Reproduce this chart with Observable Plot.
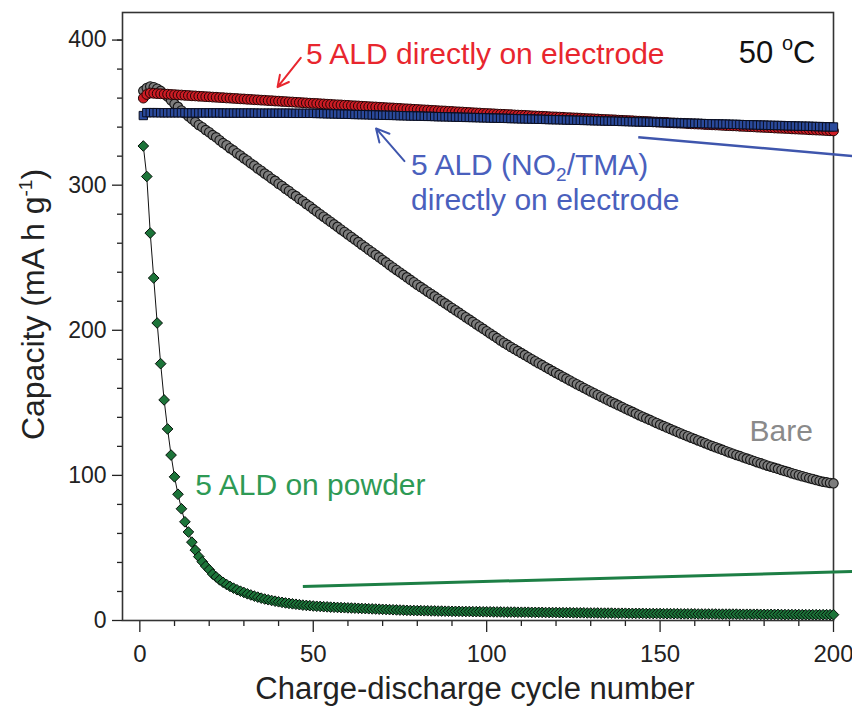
<!DOCTYPE html>
<html>
<head>
<meta charset="utf-8">
<script src="https://cdn.jsdelivr.net/npm/d3@7"></script>
<script src="https://cdn.jsdelivr.net/npm/@observablehq/plot@0.6"></script>
<style>
html, body { margin: 0; padding: 0; background: #fff; }
#chart svg { display: block; }
</style>
</head>
<body>
<div id="chart"></div>
<script>
// ---- Data ----
const bare = [
365,367,368,367.5,366.5,365,363,361,358.5,356,
354,351.5,349.5,347.5,345.5,343.5,341.5,340,338,336.5,
334.5,333,331,329,327.5,325.5,324,322,320.5,318.5,
317,315,313.5,311.5,310,308,306.5,304.5,303,301,
299.5,297.5,296,294,292.5,290.5,289,287,285.5,283.5,
281.8,280,278.3,276.5,274.8,273,271.3,269.5,267.8,266,
264.3,262.5,260.8,259,257.3,255.5,253.8,252,250.3,248.5,
246.8,245,243.3,241.6,239.9,238.2,236.5,234.8,233.1,231.4,
229.8,228.2,226.6,225,223.4,221.8,220.2,218.6,217,215.4,
213.8,212.2,210.6,209,207.4,205.8,204.2,202.6,201,199.4,
197.8,196.2,194.6,193,191.4,190.0,188.5,187.1,185.7,184.3,
182.9,181.5,180.1,178.7,177.3,176.0,174.6,173.3,171.9,170.6,
169.3,168.0,166.7,165.4,164.1,162.8,161.6,160.3,159.1,157.8,
156.6,155.4,154.2,153.0,151.8,150.6,149.5,148.3,147.2,146.0,
144.9,143.8,142.6,141.5,140.4,139.3,138.3,137.2,136.1,135.0,
134.0,133.0,131.9,130.9,129.9,128.9,127.9,127.0,126.0,125.0,
124.1,123.1,122.2,121.2,120.3,119.4,118.5,117.6,116.7,115.8,
115.0,114.1,113.3,112.4,111.6,110.8,110.0,109.1,108.3,107.5,
106.7,106.0,105.2,104.5,103.7,103.0,102.3,101.5,100.8,100.1,
99.4,98.8,98.1,97.5,96.8,96.2,95.6,95.2,94.8,94.5
];
const aldElectrode = [
360,362.5,363.5,363.3,363.1,363.0,362.8,362.7,362.5,362.4,
362.2,362.1,361.9,361.8,361.6,361.5,361.3,361.2,361.0,360.9,
360.7,360.6,360.4,360.3,360.1,360.0,359.8,359.7,359.5,359.4,
359.2,359.1,358.9,358.8,358.6,358.5,358.3,358.2,358.0,357.9,
357.7,357.6,357.4,357.3,357.1,357.0,356.8,356.7,356.5,356.4,
356.3,356.1,356.0,355.8,355.7,355.5,355.4,355.3,355.1,355.0,
354.8,354.7,354.6,354.4,354.3,354.1,354.0,353.9,353.7,353.6,
353.4,353.3,353.2,353.0,352.9,352.7,352.6,352.5,352.3,352.2,
352.0,351.9,351.8,351.6,351.5,351.3,351.2,351.1,350.9,350.8,
350.6,350.5,350.4,350.2,350.1,349.9,349.8,349.7,349.5,349.4,
349.3,349.2,349.0,348.9,348.8,348.7,348.6,348.4,348.3,348.2,
348.1,348.0,347.8,347.7,347.6,347.5,347.4,347.2,347.1,347.0,
346.9,346.8,346.6,346.5,346.4,346.3,346.2,346.0,345.9,345.8,
345.7,345.6,345.4,345.3,345.2,345.1,345.0,344.8,344.7,344.6,
344.5,344.4,344.2,344.1,344.0,343.9,343.8,343.6,343.5,343.4,
343.3,343.2,343.0,342.9,342.8,342.7,342.6,342.4,342.3,342.2,
342.1,342.0,341.8,341.7,341.6,341.5,341.4,341.2,341.1,341.0,
340.9,340.8,340.6,340.5,340.4,340.3,340.2,340.0,339.9,339.8,
339.7,339.6,339.4,339.3,339.2,339.1,339.0,338.8,338.7,338.6,
338.5,338.4,338.2,338.1,338.0,337.9,337.8,337.6,337.5,337.4
];
const aldNO2 = [
348,350,350.0,350.0,350.0,349.9,349.9,349.9,349.9,349.9,
349.9,349.9,349.9,349.8,349.8,349.8,349.8,349.8,349.8,349.8,
349.8,349.8,349.8,349.7,349.7,349.7,349.7,349.7,349.7,349.7,
349.7,349.7,349.7,349.6,349.6,349.6,349.6,349.6,349.6,349.6,
349.6,349.6,349.6,349.5,349.5,349.5,349.5,349.5,349.5,349.5,
349.4,349.4,349.3,349.2,349.2,349.1,349.1,349.0,348.9,348.9,
348.8,348.7,348.7,348.6,348.6,348.5,348.4,348.4,348.3,348.2,
348.2,348.1,348.1,348.0,347.9,347.9,347.8,347.7,347.7,347.6,
347.6,347.5,347.4,347.4,347.3,347.2,347.2,347.1,347.1,347.0,
346.9,346.9,346.8,346.7,346.7,346.6,346.6,346.5,346.4,346.4,
346.3,346.2,346.2,346.1,346.1,346.0,345.9,345.9,345.8,345.7,
345.7,345.6,345.6,345.5,345.4,345.4,345.3,345.2,345.2,345.1,
345.1,345.0,344.9,344.9,344.8,344.7,344.7,344.6,344.6,344.5,
344.4,344.4,344.3,344.2,344.2,344.1,344.1,344.0,343.9,343.9,
343.8,343.7,343.7,343.6,343.6,343.5,343.4,343.4,343.3,343.2,
343.2,343.1,343.1,343.0,342.9,342.9,342.8,342.7,342.7,342.6,
342.6,342.5,342.4,342.4,342.3,342.2,342.2,342.1,342.1,342.0,
341.9,341.9,341.8,341.7,341.7,341.6,341.6,341.5,341.4,341.4,
341.3,341.2,341.2,341.1,341.1,341.0,340.9,340.9,340.8,340.7,
340.7,340.6,340.6,340.5,340.4,340.4,340.3,340.2,340.2,340.1
];
const aldPowder = [
327,306,267,236,205,177,152,132,114,99,
87,77,68,61,54,48.5,44,40.5,37.5,35,
32,30,28,26.3,24.8,23.5,22.3,21.2,20.2,19.3,
18.4,17.6,16.8,16.1,15.4,14.8,14.3,13.8,13.3,12.9,
12.5,12.1,11.8,11.5,11.2,10.9,10.6,10.4,10.2,10.0,
9.8,9.7,9.5,9.4,9.2,9.1,9.0,8.9,8.8,8.7,
8.6,8.5,8.4,8.3,8.2,8.1,8.0,7.9,7.8,7.7,
7.6,7.5,7.4,7.3,7.2,7.1,7.0,6.9,6.9,6.8,
6.8,6.7,6.7,6.6,6.6,6.5,6.5,6.4,6.4,6.3,
6.3,6.3,6.2,6.2,6.2,6.1,6.1,6.1,6.0,6.0,
6.0,5.9,5.9,5.9,5.8,5.8,5.8,5.8,5.7,5.7,
5.7,5.7,5.6,5.6,5.6,5.6,5.5,5.5,5.5,5.5,
5.4,5.4,5.4,5.4,5.3,5.3,5.3,5.3,5.2,5.2,
5.2,5.2,5.1,5.1,5.1,5.1,5.0,5.0,5.0,5.0,
4.9,4.9,4.9,4.9,4.9,4.8,4.8,4.8,4.8,4.8,
4.7,4.7,4.7,4.7,4.7,4.6,4.6,4.6,4.6,4.6,
4.5,4.5,4.5,4.5,4.5,4.5,4.4,4.4,4.4,4.4,
4.4,4.4,4.3,4.3,4.3,4.3,4.3,4.3,4.2,4.2,
4.2,4.2,4.2,4.2,4.1,4.1,4.1,4.1,4.1,4.1,
4.0,4.0,4.0,4.0,4.0,4.0,4.0,4.0,4.0,4.0
];

const xTicks = [0, 50, 100, 150, 200];
const xMinorTicks = [10,20,30,40,60,70,80,90,110,120,130,140,160,170,180,190];
const yTicks = [0, 100, 200, 300, 400];
const yMinorTicks = [20,40,60,80,120,140,160,180,220,240,260,280,320,340,360,380,400];

const xTitle = "Charge-discharge cycle number";
const yTitle = "Capacity (mA h g-1)";

// annotation anchors in data units (cycle, capacity)
const labelRed = [{text: "5 ALD directly on electrode", x: 47.9, y: 383.2}];
const labelBlue = [
  {text: "5 ALD (NO2/TMA)", x: 78.2, y: 307.0},
  {text: "directly on electrode", x: 78.2, y: 282.6}
];
const labelBare = [{text: "Bare", x: 175.8, y: 123.9}];
const labelPowder = [{text: "5 ALD on powder", x: 16.0, y: 86.7}];
const labelTemp = [{text: "50 oC", x: 172.7, y: 384.3}];

const arrowRed = [{x1: 46.4, y1: 387.8, x2: 39.7, y2: 367.6}];
const arrowBlue = [{x1: 76.3, y1: 316.6, x2: 68.1, y2: 339.1}];
const connectorBlue = [{x1: 143.7, y1: 333.1, x2: 205.8, y2: 320.0}];
const connectorGreen = [{x1: 47.0, y1: 23.4, x2: 205.8, y2: 33.8}];

const rows = bare.map((v, i) => ({
  cycle: i + 1,
  bare: v,
  electrode: aldElectrode[i],
  no2: aldNO2[i],
  powder: aldPowder[i]
}));

const plot = Plot.plot({
  width: 852,
  height: 721,
  marginLeft: 122,
  marginRight: 19,
  marginTop: 12,
  marginBottom: 101,
  style: {fontFamily: '"Liberation Sans", Arial, sans-serif', background: "#fff", color: "#222", overflow: "visible"},
  x: {domain: [-5, 200]},
  y: {domain: [0, 419]},
  marks: [
    Plot.axisY({ticks: yMinorTicks, tickSize: 5, tickFormat: () => "", label: null, strokeWidth: 1.3}),
    Plot.axisY({ticks: yTicks, tickSize: 10, tickPadding: 6, fontSize: 23, label: null, strokeWidth: 1.3}),
    Plot.axisX({ticks: xMinorTicks, tickSize: 6, tickFormat: () => "", label: null, strokeWidth: 1.3}),
    Plot.axisX({ticks: xTicks, tickSize: 12, tickPadding: 12, fontSize: 24, label: null, strokeWidth: 1.3}),
    Plot.frame({stroke: "#333", strokeWidth: 1.6}),

    Plot.dot(rows, {x: "cycle", y: "bare", r: 4.7, fill: "#7d7d7d", stroke: "#161616", strokeWidth: 1.1}),
    Plot.dot(rows, {x: "cycle", y: "electrode", r: 4.9, fill: "#cc1c24", stroke: "#240505", strokeWidth: 1.0}),
    Plot.dot(rows, {x: "cycle", y: "no2", symbol: "square", r: 4.7, fill: "#2a4a9c", stroke: "#0a0e20", strokeWidth: 1.0}),
    Plot.line(rows, {x: "cycle", y: "powder", stroke: "#111", strokeWidth: 1}),
    Plot.dot(rows, {x: "cycle", y: "powder", symbol: "diamond2", r: 4.8, fill: "#1c7439", stroke: "#06120a", strokeWidth: 1.0}),

    Plot.link(connectorBlue, {x1: "x1", y1: "y1", x2: "x2", y2: "y2", stroke: "#3f56ad", strokeWidth: 2.5}),
    Plot.link(connectorGreen, {x1: "x1", y1: "y1", x2: "x2", y2: "y2", stroke: "#1d7f45", strokeWidth: 3}),
    Plot.arrow(arrowRed, {x1: "x1", y1: "y1", x2: "x2", y2: "y2", stroke: "#e8262e", strokeWidth: 2, headLength: 14, headAngle: 55}),
    Plot.arrow(arrowBlue, {x1: "x1", y1: "y1", x2: "x2", y2: "y2", stroke: "#3f56ad", strokeWidth: 2, headLength: 14, headAngle: 55}),

    Plot.text(labelRed, {x: "x", y: "y", text: "text", textAnchor: "start", lineAnchor: "bottom", fontSize: 30, fill: "#e8262e"}),
    Plot.text(labelBlue, {x: "x", y: "y", text: "text", textAnchor: "start", lineAnchor: "bottom", fontSize: 30, fill: "#4a60bd"}),
    Plot.text(labelBare, {x: "x", y: "y", text: "text", textAnchor: "start", lineAnchor: "bottom", fontSize: 30, fill: "#8a8a8a"}),
    Plot.text(labelPowder, {x: "x", y: "y", text: "text", textAnchor: "start", lineAnchor: "bottom", fontSize: 30, fill: "#2e9a55"}),
    Plot.text(labelTemp, {x: "x", y: "y", text: "text", textAnchor: "start", lineAnchor: "bottom", fontSize: 31, fill: "#111"}),

    Plot.text([xTitle], {text: d => d, frameAnchor: "bottom", textAnchor: "middle", lineAnchor: "bottom", dy: 78, dx: -3, fontSize: 31, fill: "#222"}),
    Plot.text([yTitle], {text: d => d, frameAnchor: "left", textAnchor: "middle", rotate: -90, lineAnchor: "bottom", dx: -79, dy: -12, fontSize: 32, fill: "#222"})
  ]
});

// rich text: sub/superscripts
d3.select(plot).selectAll("text").each(function () {
  const t = this.textContent;
  const sel = d3.select(this);
  if (t === "5 ALD (NO2/TMA)") {
    sel.text(null);
    sel.append("tspan").text("5 ALD (NO");
    sel.append("tspan").attr("dy", 6).attr("font-size", 19).text("2");
    sel.append("tspan").attr("dy", -6).text("/TMA)");
  } else if (t === "50 oC") {
    sel.text(null);
    sel.append("tspan").text("50 ");
    sel.append("tspan").attr("dy", -13).attr("font-size", 20).text("o");
    sel.append("tspan").attr("dy", 13).text("C");
  } else if (t === "Capacity (mA h g-1)") {
    sel.text(null);
    sel.append("tspan").text("Capacity (mA h g");
    sel.append("tspan").attr("dy", -12).attr("font-size", 19).text("-1");
    sel.append("tspan").attr("dy", 12).text(")");
  }
});

document.getElementById("chart").appendChild(plot);
</script>
</body>
</html>
